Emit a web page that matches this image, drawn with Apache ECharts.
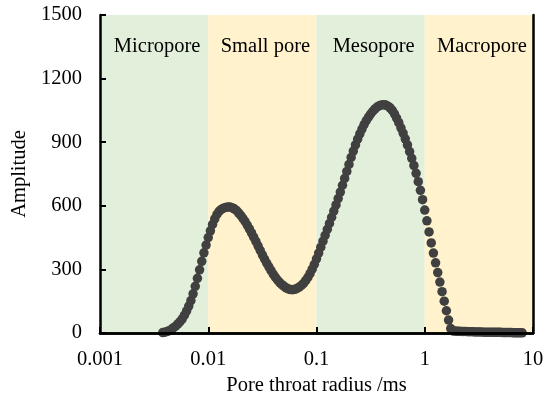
<!DOCTYPE html>
<html>
<head>
<meta charset="utf-8">
<script src="https://cdn.jsdelivr.net/npm/echarts@6/dist/echarts.min.js"></script>
<style>
  html, body { margin: 0; padding: 0; background: #fff; }
  #chart { width: 553px; height: 407px; }
</style>
</head>
<body>
<div id="chart"></div>
<script>
// pore throat radius (x, log scale)
var radius = [
  0.003802, 0.003981, 0.004169, 0.004365, 0.004571, 0.004786, 0.005012, 0.005248, 0.005495, 0.005754,
  0.006026, 0.006310, 0.006607, 0.006918, 0.007244, 0.007586, 0.007943, 0.008318, 0.008710, 0.009120, 0.009550,
  0.01000, 0.01047, 0.01096, 0.01148, 0.01202, 0.01259, 0.01318, 0.01380, 0.01445, 0.01514,
  0.01585, 0.01660, 0.01738, 0.01820, 0.01905, 0.01995, 0.02089, 0.02188, 0.02291, 0.02399,
  0.02512, 0.02630, 0.02754, 0.02884, 0.03020, 0.03162, 0.03311, 0.03467, 0.03631, 0.03802,
  0.03981, 0.04169, 0.04365, 0.04571, 0.04786, 0.05012, 0.05248, 0.05495, 0.05754, 0.06026,
  0.06310, 0.06607, 0.06918, 0.07244, 0.07586, 0.07943, 0.08318, 0.08710, 0.09120, 0.09550,
  0.1000, 0.1047, 0.1096, 0.1148, 0.1202, 0.1259, 0.1318, 0.1380, 0.1445, 0.1514,
  0.1585, 0.1660, 0.1738, 0.1820, 0.1905, 0.1995, 0.2089, 0.2188, 0.2291, 0.2399,
  0.2512, 0.2630, 0.2754, 0.2884, 0.3020, 0.3162, 0.3311, 0.3467, 0.3631, 0.3802,
  0.3981, 0.4169, 0.4365, 0.4571, 0.4786, 0.5012, 0.5248, 0.5495, 0.5754, 0.6026,
  0.6310, 0.6607, 0.6918, 0.7244, 0.7586, 0.7943, 0.8318, 0.8710, 0.9120, 0.9550,
  1.000, 1.047, 1.096, 1.148, 1.202, 1.259, 1.318, 1.380, 1.445, 1.514,
  1.585, 1.660, 1.738, 1.820, 1.905, 1.995, 2.089, 2.188, 2.291, 2.399,
  2.512, 2.630, 2.754, 2.884, 3.020, 3.162, 3.311, 3.467, 3.631, 3.802,
  3.981, 4.169, 4.365, 4.571, 4.786, 5.012, 5.248, 5.495, 5.754, 6.026,
  6.310, 6.607, 6.918, 7.244, 7.586, 7.943
];

// amplitude
var amplitude = [
  2, 4, 7, 11, 17, 25, 33, 43, 54, 67,
  84, 104, 127, 153, 185, 220, 258, 298, 338, 378, 415,
  450, 482, 512, 538, 559, 574, 583, 589, 592, 594,
  594, 591, 586, 578, 567, 555, 541, 526, 509, 491,
  472, 452, 432, 411, 390, 369, 349, 330, 312, 294,
  278, 263, 250, 238, 228, 220, 213, 208, 205, 204,
  206, 210, 216, 224, 234, 247, 262, 280, 301, 324,
  350, 377, 405, 433, 461, 489, 517, 546, 575, 604,
  634, 665, 697, 729, 762, 795, 828, 858, 887, 914,
  939, 962, 983, 1002, 1018, 1033, 1046, 1057, 1066, 1072,
  1076, 1077, 1075, 1070, 1062, 1050, 1034, 1014, 992, 968,
  943, 916, 887, 856, 824, 790, 753, 714, 673, 629,
  580, 529, 477, 425, 377, 331, 285, 240, 195, 150,
  105, 61, 21, 10, 9, 8, 8, 7, 7, 7,
  6, 6, 6, 5, 5, 5, 5, 4, 4, 4,
  4, 3, 3, 3, 3, 3, 2, 2, 2, 2,
  2, 1, 1, 1, 1, 1
];

// pore classes
var bandNames = ['Micropore', 'Small pore', 'Mesopore', 'Macropore'];
var bandFrom = [0.001, 0.01, 0.1, 1];
var bandTo = [0.01, 0.1, 1, 10];
var bandColors = ['#e2efda', '#fff2cc', '#e2efda', '#fff2cc'];

var yTicks = [0, 300, 600, 900, 1200, 1500];

var font = '"Liberation Serif", "Times New Roman", serif';

var chart = echarts.init(document.getElementById('chart'));

var points = radius.map(function (r, i) { return [r, amplitude[i]]; });

var areas = bandNames.map(function (name, i) {
  return [
    { xAxis: bandFrom[i], name: name, itemStyle: { color: bandColors[i] } },
    { xAxis: bandTo[i] }
  ];
});

var option = {
  animation: false,
  grid: { left: 100, right: 20, top: 15, bottom: 74 },
  xAxis: [{
    type: 'log',
    logBase: 10,
    min: 0.001,
    max: 10,
    name: 'Pore throat radius /ms',
    nameLocation: 'middle',
    nameGap: 40,
    nameTextStyle: { fontFamily: font, fontSize: 20.5, color: '#000' },
    axisLine: { show: true, lineStyle: { color: '#000', width: 2.5 } },
    axisTick: { show: true, inside: true, length: 6, lineStyle: { color: '#000', width: 2 } },
    axisLabel: {
      fontFamily: font, fontSize: 20.5, color: '#000', margin: 16,
      formatter: function (v) { return String(+v.toPrecision(3)); }
    },
    minorTick: { show: false },
    splitLine: { show: false },
    z: 10
  }, {
    type: 'log',
    logBase: 10,
    min: 0.001,
    max: 10,
    position: 'top',
    axisLine: { show: true, lineStyle: { color: '#000', width: 2.5 } },
    axisTick: { show: false },
    axisLabel: { show: false },
    splitLine: { show: false },
    z: 10
  }],
  yAxis: [{
    type: 'value',
    min: 0,
    max: 1500,
    interval: 300,
    name: 'Amplitude',
    nameLocation: 'middle',
    nameGap: 64,
    nameTextStyle: { fontFamily: font, fontSize: 20.5, color: '#000' },
    axisLine: { show: true, lineStyle: { color: '#000', width: 2.5 } },
    axisTick: { show: true, inside: true, length: 6, lineStyle: { color: '#000', width: 2 } },
    axisLabel: {
      fontFamily: font, fontSize: 20.5, color: '#000', margin: 18,
      formatter: function (v) { return yTicks.indexOf(v) >= 0 ? String(v) : ''; }
    },
    splitLine: { show: false },
    z: 10
  }, {
    type: 'value',
    min: 0,
    max: 1500,
    position: 'right',
    axisLine: { show: true, lineStyle: { color: '#000', width: 2.5 } },
    axisTick: { show: false },
    axisLabel: { show: false },
    splitLine: { show: false },
    z: 10
  }],
  series: [{
    type: 'scatter',
    data: points,
    symbol: 'circle',
    symbolSize: 9.5,
    itemStyle: { color: '#404040', opacity: 1 },
    z: 5,
    markArea: {
      silent: true,
      label: {
        show: true,
        position: 'insideTop',
        distance: 21,
        offset: [3, 0],
        fontFamily: font,
        fontSize: 20.5,
        color: '#000'
      },
      data: areas
    }
  }]
};

chart.setOption(option);
</script>
</body>
</html>
